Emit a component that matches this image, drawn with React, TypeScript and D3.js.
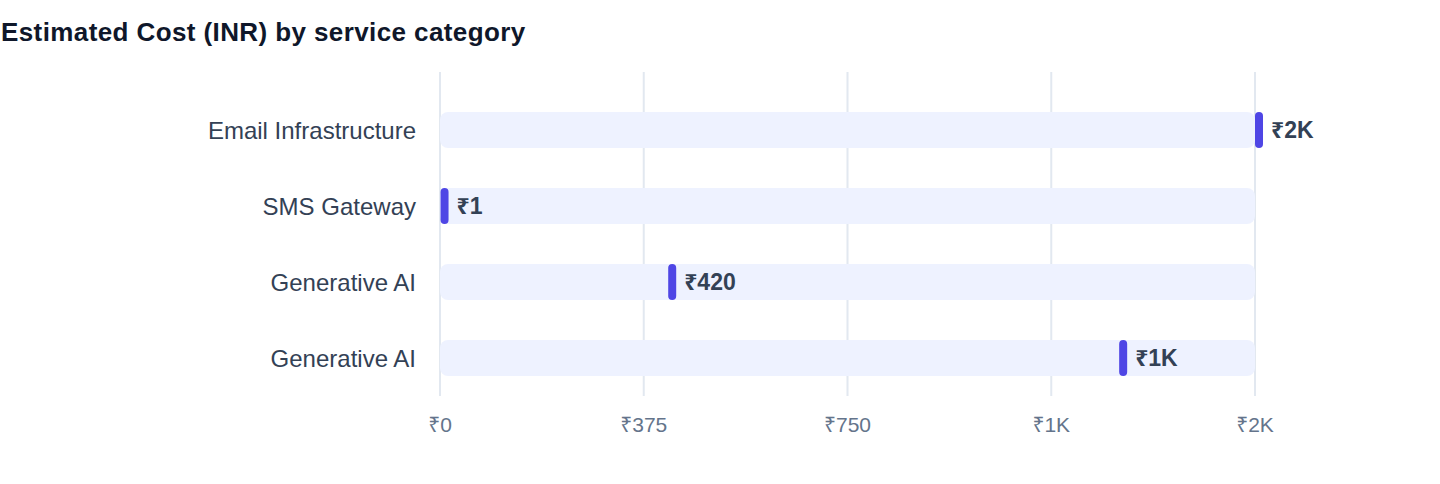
import React from "react";
import * as d3 from "d3";

const categories = ["Email Infrastructure", "SMS Gateway", "Generative AI", "Generative AI"];
const costs = [1500, 1, 420, 1250];
const tickValues = [0, 375, 750, 1125, 1500];
const xMax = 1500;

const W = 1440;
const H = 484;
const FONT = "'Liberation Sans', Arial, Helvetica, 'Noto Sans', sans-serif";

function fmt(v: number): string {
  if (v >= 1000) return "₹" + Math.round(v / 1000) + "K";
  return "₹" + Math.round(v);
}

export default function App() {
  const x = d3.scaleLinear().domain([0, xMax]).range([440, 1255]);
  const y = d3.scaleBand<number>().domain(categories.map((_, i) => i)).range([92, 396]).padding(0);
  const trackH = 36;
  const markerW = 8;
  return (
    <svg width={W} height={H} style={{ position: "absolute", left: 0, top: 0, background: "#fff" }}>
      <text x={1} y={41} fontFamily={FONT} fontWeight={700} fontSize={26} letterSpacing={0.4} fill="#0f172a">
        Estimated Cost (INR) by service category
      </text>
      {tickValues.map((t) => (
        <g key={t}>
          <line x1={x(t)} x2={x(t)} y1={72} y2={396} stroke="#e2e8f0" strokeWidth={2} />
          <text x={x(t)} y={432} textAnchor="middle" fontFamily={FONT} fontSize={21} fill="#64748b">
            {fmt(t)}
          </text>
        </g>
      ))}
      {categories.map((c, i) => {
        const cy = (y(i) as number) + y.bandwidth() / 2;
        const v = costs[i];
        const xv = x(v);
        return (
          <g key={i}>
            <rect x={x(0)} y={cy - trackH / 2} width={x(xMax) - x(0)} height={trackH} rx={8} fill="#eef2ff" />
            <rect x={xv} y={cy - trackH / 2} width={markerW} height={trackH} rx={4} fill="#4f46e5" />
            <text x={xv + markerW + 8} y={cy + 8} fontFamily={FONT} fontWeight={700} fontSize={23} fill="#334155">
              {fmt(v)}
            </text>
            <text x={416} y={cy + 8.5} textAnchor="end" fontFamily={FONT} fontSize={24} fill="#334155">
              {c}
            </text>
          </g>
        );
      })}
    </svg>
  );
}
